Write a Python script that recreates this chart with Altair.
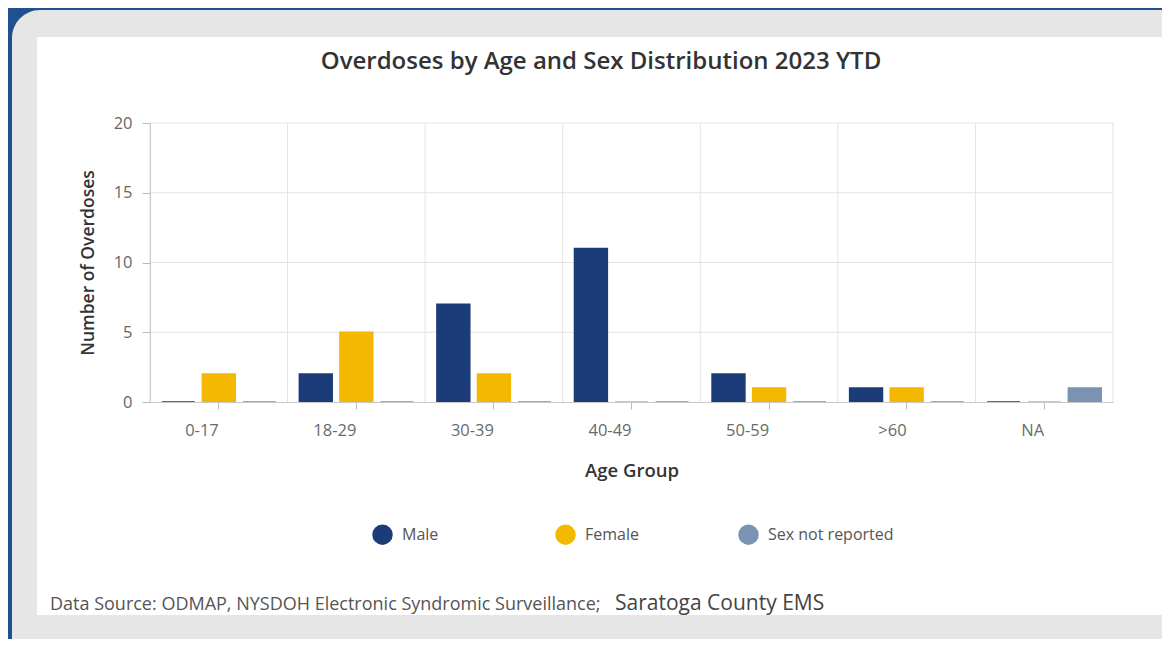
import altair as alt
import pandas as pd

# ---- data ----
ages = ["0-17", "18-29", "30-39", "40-49", "50-59", ">60", "NA"]
sexes = ["Male", "Female", "Sex not reported"]
male = [0, 2, 7, 11, 2, 1, 0]
female = [2, 5, 2, 0, 1, 1, 0]
not_reported = [0, 0, 0, 0, 0, 0, 1]
colors = ["#1b3c78", "#f5b800", "#7b93b2"]
y_ticks = [0, 5, 10, 15, 20]
grid_y = [5, 10, 15, 20]
title_text = "Overdoses by Age and Sex Distribution 2023 YTD"
source_text = "Data Source: ODMAP, NYSDOH Electronic Syndromic Surveillance;"
source_text2 = "Saratoga County EMS"

rows = []
for i, a in enumerate(ages):
    for s, vals in zip(sexes, [male, female, not_reported]):
        rows.append({"age": a, "sex": s, "n": vals[i]})
bars_df = pd.DataFrame(rows)
one = pd.DataFrame({"k": [0]})

FONT = "Open Sans"
W, H = 963, 279

x_scale = alt.Scale(domain=ages, paddingInner=0, paddingOuter=0)
y_scale = alt.Scale(domain=[0, 20], nice=False)
color_scale = alt.Scale(domain=sexes, range=colors)

# ---- decorative panels ----
gray_panel = alt.Chart(one).mark_rect(color="#e6e6e6", cornerRadius=28).encode(
    x=alt.value(-138), x2=alt.value(1040), y=alt.value(-113), y2=alt.value(545)
)
white_panel = alt.Chart(one).mark_rect(color="#ffffff").encode(
    x=alt.value(-113), x2=alt.value(1013), y=alt.value(-86), y2=alt.value(492)
)

# ---- gridlines ----
hgrid = alt.Chart(pd.DataFrame({"g": grid_y})).mark_rule(color="#e3e3e3", strokeWidth=1).encode(
    y=alt.Y("g:Q", scale=y_scale)
)
vgrid = alt.Chart(pd.DataFrame({"age": ages})).mark_rule(color="#e3e3e3", strokeWidth=1).encode(
    x=alt.X("age:N", scale=x_scale, bandPosition=0)
)
vgrid_end = alt.Chart(pd.DataFrame({"age": ages[-1:]})).mark_rule(color="#e3e3e3", strokeWidth=1).encode(
    x=alt.X("age:N", scale=x_scale, bandPosition=1)
)

# ---- bars ----
bars = alt.Chart(bars_df).mark_bar(strokeWidth=1.5).encode(
    x=alt.X(
        "age:N", scale=x_scale, sort=ages, title="Age Group",
        axis=alt.Axis(
            labelFont=FONT, labelFontSize=16.5, labelColor="#6a6a6a", labelPadding=21, labelAngle=0,
            tickSize=7, tickColor="#bbbbbb", domainColor="#c8c8c8", grid=False,
            titleFont=FONT, titleFontSize=18.5, titleFontWeight=600, titleColor="#333",
            titlePadding=23, zindex=1,
        ),
    ),
    xOffset=alt.XOffset("sex:N", scale=alt.Scale(domain=sexes, paddingInner=0.19, paddingOuter=0.29)),
    y=alt.Y(
        "n:Q", scale=y_scale, title="Number of Overdoses",
        axis=alt.Axis(
            values=y_ticks, labelFont=FONT, labelFontSize=16.5, labelColor="#666", labelPadding=10,
            tickSize=8, tickColor="#bbbbbb", domainColor="#c8c8c8", grid=False,
            titleFont=FONT, titleFontSize=17.5, titleFontWeight=600, titleColor="#333",
            titlePadding=16, zindex=1,
        ),
    ),
    color=alt.Color(
        "sex:N", scale=color_scale,
        legend=alt.Legend(
            title=None, orient="none", legendX=222, legendY=401, direction="horizontal",
            columns=3, gridAlign="all", symbolType="circle", symbolSize=420, symbolStrokeWidth=0,
            labelFont=FONT, labelFontSize=16, labelColor="#555", labelOffset=9, columnPadding=27,
        ),
    ),
    stroke=alt.Stroke("sex:N", scale=color_scale, legend=None),
)

# ---- text ----
title_mark = alt.Chart(one).mark_text(
    text=title_text, font=FONT, fontSize=24, fontWeight=600, color="#333333",
    align="center", baseline="alphabetic",
).encode(x=alt.value(451), y=alt.value(-54))

source_mark = alt.Chart(one).mark_text(
    text=source_text, font=FONT, fontSize=18, color="#555555", align="left", baseline="alphabetic",
).encode(x=alt.value(-100), y=alt.value(487))

source_mark2 = alt.Chart(one).mark_text(
    text=source_text2, font=FONT, fontSize=21, color="#444444", align="left", baseline="alphabetic",
).encode(x=alt.value(465), y=alt.value(487))

chart = alt.layer(
    gray_panel, white_panel, hgrid, vgrid, vgrid_end, bars, title_mark, source_mark, source_mark2
).properties(
    width=W, height=H,
    padding={"left": 142, "top": 115, "right": 49, "bottom": 237},
    autosize=alt.AutoSizeParams(type="none"),
    background="#21508f",
).configure_view(stroke=None)

chart.save("out.html", embed_options={"renderer": "svg", "actions": False})
